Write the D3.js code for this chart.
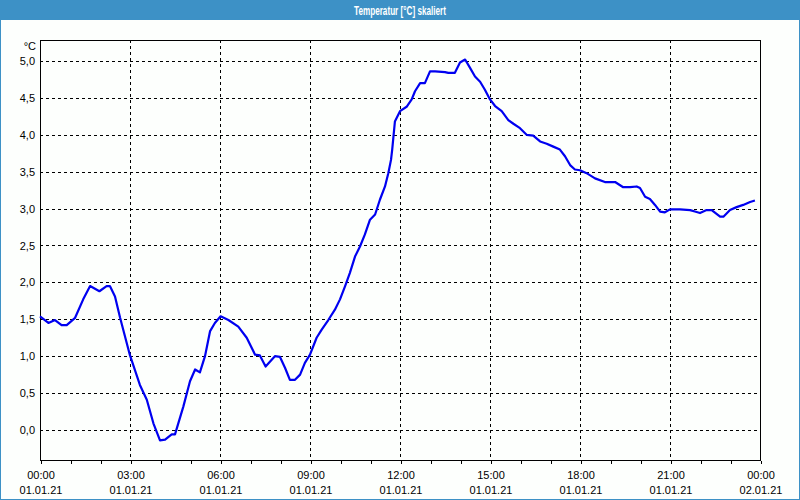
<!DOCTYPE html>
<html><head><meta charset="utf-8">
<script src="https://cdn.jsdelivr.net/npm/d3@7"></script>
<style>
html,body{margin:0;padding:0;background:#fff;}
svg{display:block;}
text{font-family:"Liberation Sans",Arial,sans-serif;}
</style></head>
<body>
<script>
const title = "Temperatur [°C] skaliert";
const unitLabel = "°C";
// hours since 01.01.21 00:00
const hours = [0.00,0.28,0.50,0.72,0.89,1.17,1.44,1.67,1.98,2.22,2.33,2.50,2.67,3.00,3.33,3.56,3.78,4.00,4.17,4.39,4.50,4.78,5.00,5.17,5.33,5.50,5.67,5.83,6.02,6.28,6.61,6.89,7.17,7.33,7.52,7.83,8.00,8.17,8.33,8.50,8.67,8.83,9.00,9.22,9.39,9.61,9.83,10.00,10.17,10.33,10.50,10.67,10.83,11.00,11.17,11.33,11.50,11.61,11.70,11.74,11.83,12.00,12.22,12.39,12.50,12.67,12.83,13.00,13.17,13.50,13.61,13.83,14.00,14.17,14.33,14.50,14.67,14.83,15.00,15.17,15.39,15.61,15.78,16.00,16.22,16.44,16.67,16.89,17.11,17.33,17.50,17.67,17.83,18.00,18.22,18.50,18.83,19.17,19.44,19.67,19.89,20.00,20.17,20.33,20.50,20.67,20.83,21.00,21.33,21.67,21.83,22.00,22.22,22.39,22.67,22.78,23.00,23.22,23.44,23.67,23.83];
const temps = [1.54,1.45,1.49,1.42,1.42,1.52,1.77,1.95,1.88,1.95,1.95,1.81,1.52,1.01,0.61,0.41,0.09,-0.14,-0.13,-0.06,-0.06,0.32,0.66,0.82,0.78,1.00,1.34,1.45,1.54,1.49,1.40,1.25,1.02,1.01,0.86,1.00,0.99,0.84,0.68,0.68,0.75,0.91,1.02,1.25,1.36,1.49,1.63,1.77,1.95,2.13,2.35,2.49,2.65,2.85,2.92,3.12,3.30,3.48,3.66,3.80,4.18,4.32,4.38,4.48,4.59,4.70,4.70,4.86,4.86,4.85,4.84,4.84,4.98,5.02,4.91,4.79,4.72,4.61,4.48,4.39,4.32,4.20,4.15,4.09,4.00,3.99,3.91,3.88,3.84,3.80,3.71,3.59,3.53,3.52,3.48,3.41,3.36,3.36,3.29,3.29,3.30,3.28,3.16,3.13,3.05,2.96,2.95,2.99,2.99,2.98,2.96,2.94,2.98,2.98,2.89,2.89,2.98,3.02,3.05,3.09,3.11];
const xTickHours = [0,3,6,9,12,15,18,21,24];
const xTimeLabels = ["00:00","03:00","06:00","09:00","12:00","15:00","18:00","21:00","00:00"];
const xDateLabels = ["01.01.21","01.01.21","01.01.21","01.01.21","01.01.21","01.01.21","01.01.21","01.01.21","02.01.21"];
const yTicks = [0,0.5,1,1.5,2,2.5,3,3.5,4,4.5,5];
const minorHours = d3.range(0,25,1);

const W=800,H=500;
const L=40,R=760,T=40,B=460;
const svg=d3.select("body").append("svg").attr("width",W).attr("height",H);
svg.append("rect").attr("x",0).attr("y",0).attr("width",W).attr("height",H).attr("fill","#3d91c6");
svg.append("rect").attr("x",1).attr("y",20).attr("width",W-2).attr("height",H-21).attr("fill","#fdfffd");
svg.append("text").attr("x",400).attr("y",14.5).attr("text-anchor","middle")
  .attr("fill","#fff").attr("font-weight","bold").attr("font-size","12px")
  .attr("textLength",92).attr("lengthAdjust","spacingAndGlyphs").text(title);

const x=d3.scaleLinear().domain([0,24]).range([L,R]);
const y=d3.scaleLinear().domain([-0.407,5.285]).range([B,T]);

const g=svg.append("g").attr("shape-rendering","crispEdges");
// grid
g.selectAll(".hg").data(yTicks).enter().append("line")
  .attr("x1",L).attr("x2",R).attr("y1",d=>Math.round(y(d))+0.5).attr("y2",d=>Math.round(y(d))+0.5)
  .attr("stroke","#000").attr("stroke-dasharray","3,3");
g.selectAll(".vg").data(xTickHours.slice(1,-1)).enter().append("line")
  .attr("y1",T).attr("y2",B).attr("x1",d=>Math.round(x(d))+0.5).attr("x2",d=>Math.round(x(d))+0.5)
  .attr("stroke","#000").attr("stroke-dasharray","3,3");

// line
const line=d3.line().x((d,i)=>x(hours[i])).y(d=>y(d));
svg.append("path").datum(temps).attr("d",line).attr("fill","none")
  .attr("stroke","#0000f0").attr("stroke-width",2.2).attr("stroke-linejoin","round");

// frame
g.append("rect").attr("x",L+0.5).attr("y",T+0.5).attr("width",R-L).attr("height",B-T)
  .attr("fill","none").attr("stroke","#000");

// x axis minor ticks and labels
const xAxis=d3.axisBottom(x).tickValues(minorHours).tickSize(3).tickFormat("");
const xa=svg.append("g").attr("transform",`translate(0.5,${B+0.5})`).call(xAxis);
xa.select(".domain").remove();
xa.selectAll("line").attr("stroke","#000").attr("shape-rendering","crispEdges");
svg.selectAll(".xt").data(xTickHours).enter().append("text")
  .attr("x",d=>x(d)+1).attr("y",479).attr("text-anchor","middle").attr("font-size","11px").attr("fill","#000")
  .text((d,i)=>xTimeLabels[i]);
svg.selectAll(".xd").data(xTickHours).enter().append("text")
  .attr("x",d=>x(d)+1).attr("y",494).attr("text-anchor","middle").attr("font-size","11px").attr("fill","#000")
  .text((d,i)=>xDateLabels[i]);

// y labels
const yAxis=d3.axisLeft(y).tickValues(yTicks).tickSize(0).tickPadding(5)
  .tickFormat(d=>d3.format(".1f")(d).replace(".",","));
const ya=svg.append("g").attr("transform",`translate(${L},0)`).call(yAxis);
ya.select(".domain").remove();
ya.selectAll("text").attr("font-size","11px").attr("fill","#000").attr("font-family","Liberation Sans, Arial, sans-serif");
svg.append("text").attr("x",36).attr("y",49.5).attr("text-anchor","end").attr("font-size","11px").attr("fill","#000").text(unitLabel);
</script>
</body></html>
